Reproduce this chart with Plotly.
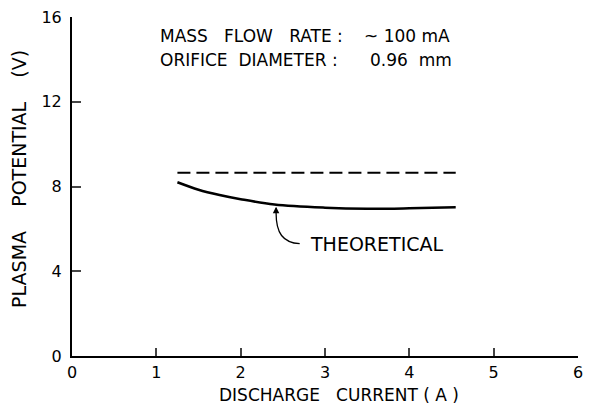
import plotly.graph_objects as go

# measured plasma potential (dashed) and theoretical curve (solid)
meas_current = [1.25, 4.55]
meas_potential = [8.65, 8.65]

theory_current = [1.25, 1.5, 1.75, 2.0, 2.4, 3.0, 3.5, 4.0, 4.55]
theory_potential = [8.2, 7.85, 7.6, 7.4, 7.15, 7.0, 6.95, 6.97, 7.02]

x_ticks = [0, 1, 2, 3, 4, 5, 6]
y_ticks = [0, 4, 8, 12, 16]

FONT = "DejaVu Sans, Verdana, sans-serif"

fig = go.Figure()

fig.add_trace(go.Scatter(
    x=meas_current, y=meas_potential, mode="lines",
    line=dict(color="black", width=2, dash="13px,6px"),
    showlegend=False))

fig.add_trace(go.Scatter(
    x=theory_current, y=theory_potential, mode="lines",
    line=dict(color="black", width=2.5, shape="spline"),
    showlegend=False))

# curved leader from the label up to the theoretical curve
fig.add_shape(type="path",
              path="M 2.7,5.3 C 2.5,5.35 2.42,5.8 2.42,6.75",
              xref="x", yref="y",
              line=dict(color="black", width=1.3))
fig.add_annotation(x=2.42, y=7.05, ax=2.42, ay=6.7, axref="x", ayref="y",
                   xref="x", yref="y", text="", showarrow=True,
                   arrowhead=2, arrowsize=1, arrowwidth=1.3, arrowcolor="black")

fig.add_annotation(x=2.8, y=5.3, xref="x", yref="y", text="THEORETICAL",
                   showarrow=False, xanchor="left", yanchor="middle",
                   font=dict(family=FONT, size=19, color="black"))

# run conditions
fig.add_annotation(x=1.02, y=15.1, xref="x", yref="y",
                   text="MASS   FLOW   RATE :", showarrow=False,
                   xanchor="left", yanchor="middle",
                   font=dict(family=FONT, size=17, color="black"))
fig.add_annotation(x=3.44, y=15.1, xref="x", yref="y",
                   text="~ 100 mA", showarrow=False,
                   xanchor="left", yanchor="middle",
                   font=dict(family=FONT, size=17, color="black"))
fig.add_annotation(x=1.02, y=13.97, xref="x", yref="y",
                   text="ORIFICE  DIAMETER :", showarrow=False,
                   xanchor="left", yanchor="middle",
                   font=dict(family=FONT, size=17, color="black"))
fig.add_annotation(x=3.51, y=13.97, xref="x", yref="y",
                   text="0.96  mm", showarrow=False,
                   xanchor="left", yanchor="middle",
                   font=dict(family=FONT, size=17, color="black"))

# axis titles
fig.add_annotation(x=0.528, y=-0.115, xref="paper", yref="paper",
                   text="DISCHARGE   CURRENT ( A )", showarrow=False,
                   xanchor="center", yanchor="middle",
                   font=dict(family=FONT, size=17, color="black"))
fig.add_annotation(x=-0.105, y=0.522, xref="paper", yref="paper",
                   text="PLASMA    POTENTIAL    (V)", showarrow=False,
                   textangle=-90, xanchor="center", yanchor="middle",
                   font=dict(family=FONT, size=19, color="black"))

# page body adds an 8px offset, so the figure is sized to the visible area
fig.update_layout(
    width=584, height=402,
    margin=dict(l=64, r=14, t=9, b=54),
    plot_bgcolor="white", paper_bgcolor="white",
    font=dict(family=FONT, size=16, color="black"),
    xaxis=dict(range=[0, 6], tickvals=x_ticks, ticks="inside", ticklen=8,
               tickwidth=1.5, showline=True, linecolor="black", linewidth=2,
               showgrid=False, zeroline=False, automargin=False,
               ticklabelstandoff=1, ticklabeloverflow="allow"),
    yaxis=dict(range=[0, 16], tickvals=y_ticks, ticks="inside", ticklen=9,
               tickwidth=1.5, showline=True, linecolor="black", linewidth=2,
               showgrid=False, zeroline=False, automargin=False,
               ticklabelstandoff=5, ticklabeloverflow="allow"),
)

fig.write_html("out.html")
